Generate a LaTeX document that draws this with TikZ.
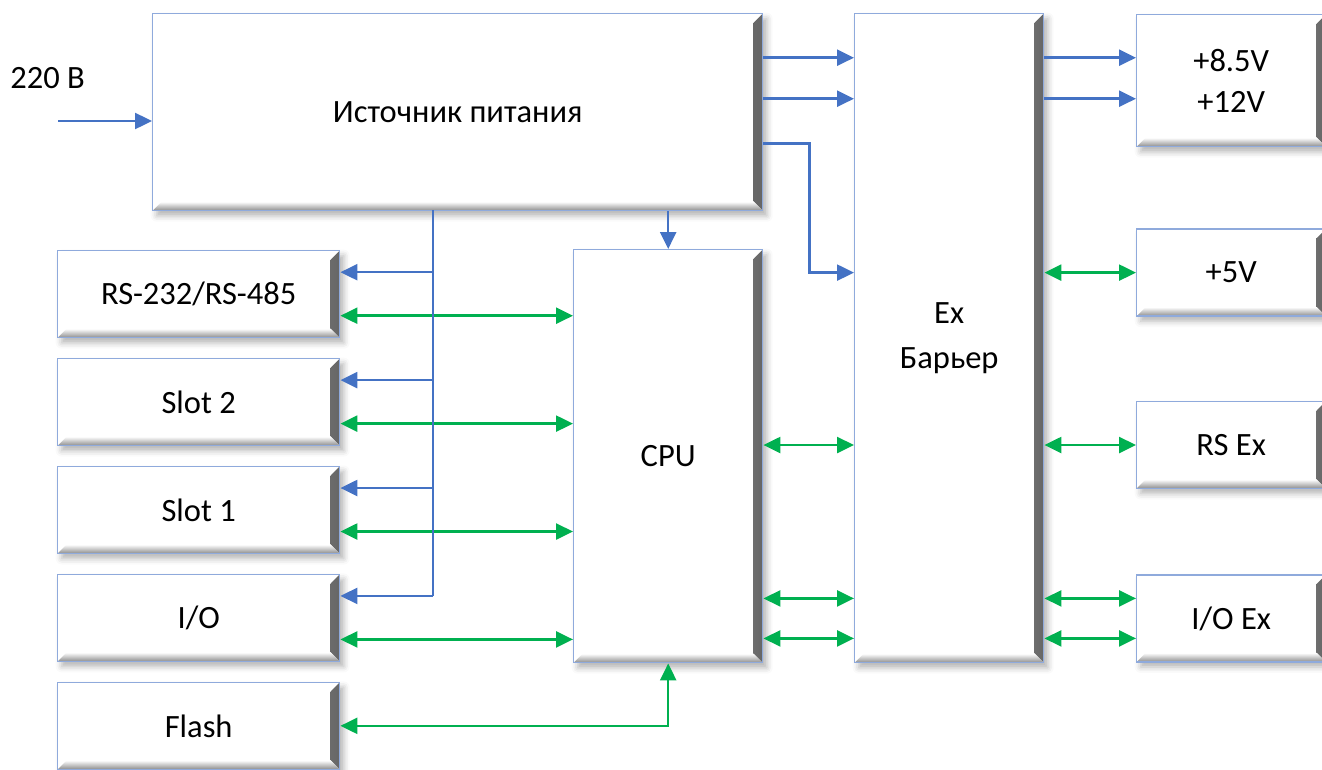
\documentclass[tikz,border=0pt]{standalone}
\usepackage{fontspec}
\setmainfont{Carlito}
\usetikzlibrary{arrows.meta,positioning,shadows.blur}
\definecolor{linkblue}{HTML}{4472C4}
\definecolor{linkgreen}{HTML}{00B050}
\definecolor{edgeblue}{HTML}{8FAADC}

\tikzset{
  unit/.style={
    draw=edgeblue, line width=0.8pt, fill=white,
    inner sep=0pt, align=center,
    font=\fontsize{18.5}{23}\selectfont,
    blur shadow={shadow xshift=0.8mm, shadow yshift=-1mm,
      shadow opacity=30, shadow blur radius=1.2mm},
    path picture={
      \shade[left color=white, middle color=black!15, right color=black!60]
        ([xshift=-1.8mm,yshift=-1.8mm]path picture bounding box.north east)
        -- (path picture bounding box.north east)
        -- (path picture bounding box.south east)
        -- ([xshift=-1.8mm,yshift=1.8mm]path picture bounding box.south east) -- cycle;
      \shade[top color=white, middle color=black!20, bottom color=black!45]
        ([xshift=1.8mm,yshift=1.8mm]path picture bounding box.south west)
        -- ([xshift=-1.8mm,yshift=1.8mm]path picture bounding box.south east)
        -- (path picture bounding box.south east)
        -- (path picture bounding box.south west) -- cycle;
    }
  },
  sidebox/.style={unit, minimum width=5.64cm, minimum height=1.74cm},
  outbox/.style={unit, minimum width=3.78cm, minimum height=1.74cm},
  feed/.style={linkblue, line width=1.4pt},
  power/.style={feed, -{Triangle[length=3.4mm,width=3.2mm]}},
  data/.style={linkgreen, line width=1.4pt,
    {Triangle[length=3.4mm,width=3.2mm]}-{Triangle[length=3.4mm,width=3.2mm]}}
}

\begin{document}
\begin{tikzpicture}
\useasboundingbox (0,0) rectangle (26.44,-15.38);

% main blocks
\node[unit, anchor=north west, minimum width=12.2cm, minimum height=3.94cm] (psu) at (3.04,-0.26) {Источник питания};
\node[unit, anchor=north west, minimum width=3.78cm, minimum height=8.26cm] (cpu) at (11.46,-4.98) {CPU};
\node[unit, anchor=north west, minimum width=3.78cm, minimum height=12.98cm] (ex) at (17.08,-0.26) {Ex\\[3pt]Барьер};

% left column
\node[sidebox, anchor=north west] (rs) at (1.14,-5.0) {RS-232/RS-485};
\node[sidebox, below=0.39cm of rs] (slot2) {Slot 2};
\node[sidebox, below=0.39cm of slot2] (slot1) {Slot 1};
\node[sidebox, below=0.39cm of slot1] (io) {I/O};
\node[sidebox, below=0.39cm of io] (flash) {Flash};

% right column
\node[outbox, anchor=north west, minimum height=2.64cm] (volt) at (22.72,-0.28) {+8.5V\\+12V};
\node[outbox, below=1.62cm of volt] (fivev) {+5V};
\node[outbox, below=1.68cm of fivev] (rsex) {RS Ex};
\node[outbox, below=1.7cm of rsex] (ioex) {I/O Ex};

% mains input
\node[inner sep=0pt, anchor=west, font=\fontsize{18.5}{23}\selectfont] (mains) at (0.2,-1.56) {220 В};
\coordinate (feedin) at (1.16,-2.42);
\draw[power] (feedin) -- (feedin -| psu.west);

% supply rails
\coordinate (lv1) at ([yshift=0.46cm]volt.west);
\coordinate (lv2) at ([yshift=-0.36cm]volt.west);
\foreach \c in {lv1,lv2}{
  \draw[power] (psu.east |- \c) -- (ex.west |- \c);
  \draw[power] (ex.east |- \c) -- (\c);
}
\draw[power] ([yshift=-0.63cm]psu.east) -- ++(0.92,0) |- (ex.west |- fivev.west);
\draw[data] (ex.east |- fivev.west) -- (fivev.west);
\draw[power] (psu.south -| cpu.north) -- (cpu.north);

% left bus
\coordinate (tap) at (8.66,-4.2);
\foreach \b in {rs,slot2,slot1,io}{
  \coordinate (\b-p) at ([yshift=0.44cm]\b.east);
  \coordinate (\b-d) at ([yshift=-0.43cm]\b.east);
  \draw[power] (tap |- \b-p) -- (\b-p);
  \draw[data] (\b-d) -- (cpu.west |- \b-d);
}
\draw[feed] (tap) -- (tap |- io-p);
\draw[data] (flash.east) -| (cpu.south);

% cpu, barrier and outputs
\draw[data] (cpu.east |- rsex.west) -- (ex.west |- rsex.west);
\draw[data] (ex.east |- rsex.west) -- (rsex.west);
\coordinate (io1) at ([yshift=0.4cm]ioex.west);
\coordinate (io2) at ([yshift=-0.4cm]ioex.west);
\foreach \c in {io1,io2}{
  \draw[data] (cpu.east |- \c) -- (ex.west |- \c);
  \draw[data] (ex.east |- \c) -- (\c);
}
\end{tikzpicture}
\end{document}
